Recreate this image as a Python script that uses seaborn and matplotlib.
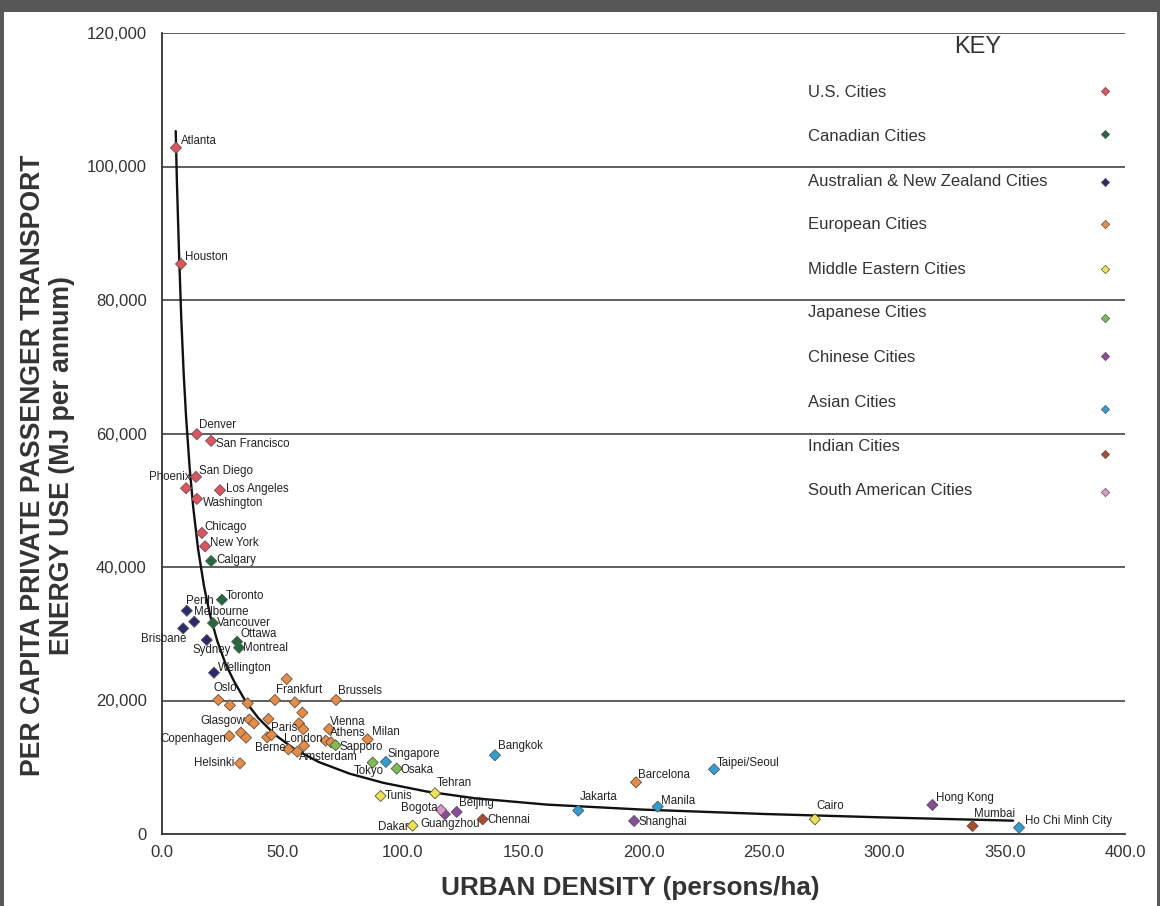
import numpy as np
import pandas as pd
import matplotlib.pyplot as plt
import seaborn as sns
from matplotlib.patches import Rectangle

# city data: density (persons/ha), energy (MJ per capita)
cities = ['Atlanta', 'Houston', 'Denver', 'San Francisco', 'San Diego', 'Phoenix',
          'Los Angeles', 'Washington', 'Chicago', 'New York',
          'Calgary', 'Toronto', 'Vancouver', 'Ottawa', 'Montreal',
          'Perth', 'Melbourne', 'Brisbane', 'Sydney', 'Wellington',
          'Oslo', 'Frankfurt', 'Brussels', '', '', '', '', '', 'Glasgow', '',
          'Paris', '', '', 'Copenhagen', '', '', '', '', 'Berne', 'Amsterdam',
          'London', 'Athens', 'Vienna', '', 'Milan', 'Helsinki', 'Barcelona',
          'Tehran', 'Tunis', 'Dakar', 'Cairo',
          'Sapporo', 'Tokyo', 'Osaka',
          'Beijing', 'Guangzhou', 'Shanghai', 'Hong Kong',
          'Singapore', 'Bangkok', 'Jakarta', 'Manila', 'Taipei/Seoul', 'Ho Chi Minh City',
          'Chennai', 'Mumbai',
          'Bogota']
density = [5.8, 7.9, 14.5, 20.4, 14.1, 10.0, 24.1, 14.5, 16.6, 17.9,
           20.4, 24.9, 21.2, 31.2, 32.0,
           10.3, 13.4, 8.8, 18.6, 21.6,
           23.4, 46.9, 72.3, 51.8, 28.2, 35.6, 55.2, 58.3, 36.3, 38.2,
           44.2, 56.9, 58.7, 28.0, 32.8, 34.9, 43.7, 45.5, 52.5, 56.2,
           59.0, 68.0, 69.4, 70.2, 85.4, 32.4, 196.9,
           113.4, 90.8, 104.1, 271.2,
           72.1, 87.5, 97.5,
           122.4, 117.5, 196.1, 320.0,
           93.0, 138.3, 172.9, 205.9, 229.3, 356.0,
           133.2, 336.7,
           115.9]
energy = [102800, 85400, 59900, 58900, 53500, 51800, 51500, 50200, 45100, 43100,
          40900, 35100, 31600, 28800, 27900,
          33450, 31800, 30800, 29060, 24160,
          20075, 20075, 20075, 23220, 19280, 19580, 19730, 18180, 17150, 16580,
          17230, 16580, 15690, 14680, 15180, 14430, 14490, 14830, 12690, 12330,
          13230, 13980, 15730, 13740, 14190, 10590, 7740,
          6100, 5700, 1250, 2200,
          13300, 10700, 9800,
          3300, 2950, 1950, 4350,
          10800, 11800, 3500, 4100, 9700, 950,
          2200, 1200,
          3600]
region = (['U.S. Cities'] * 10 + ['Canadian Cities'] * 5 +
          ['Australian & New Zealand Cities'] * 5 + ['European Cities'] * 27 +
          ['Middle Eastern Cities'] * 4 + ['Japanese Cities'] * 3 +
          ['Chinese Cities'] * 4 + ['Asian Cities'] * 6 + ['Indian Cities'] * 2 +
          ['South American Cities'])

groups = ['U.S. Cities', 'Canadian Cities', 'Australian & New Zealand Cities',
          'European Cities', 'Middle Eastern Cities', 'Japanese Cities',
          'Chinese Cities', 'Asian Cities', 'Indian Cities', 'South American Cities']
group_colors = ['#e8505b', '#1f6b3a', '#2b2a70', '#ee8a3c', '#f0e445',
                '#7cc04c', '#8b4a9e', '#2aa0d8', '#b04a28', '#dc96cc']

# trend curve
curve_density = [5.7, 6.2, 7.0, 8.0, 9.0, 10.0, 11.5, 13.0, 15.0, 17.5, 20.0, 23.0,
                 26.5, 30.0, 35.0, 40.0, 47.0, 55.0, 65.0, 78.0, 92.0, 110.0, 130.0,
                 160.0, 200.0, 250.0, 300.0, 353.5]
curve_energy = [105300, 97600, 87900, 77250, 69000, 62500, 54800, 48850, 42670, 37030,
                32750, 28870, 25400, 22830, 19710, 17380, 14850, 12730, 10800, 9030,
                7660, 6360, 5350, 4400, 3650, 3000, 2480, 2000]

x_ticks = [0, 50, 100, 150, 200, 250, 300, 350, 400]
y_ticks = [0, 20000, 40000, 60000, 80000, 100000, 120000]

# label placement: dx, dy in pixels, alignment
label_pos = {
    'Atlanta': (5, 7, 'left'), 'Houston': (4, 7, 'left'), 'Denver': (2, 9, 'left'),
    'San Francisco': (5, -3, 'left'), 'San Diego': (3, 6, 'left'),
    'Phoenix': (5, 11, 'right'), 'Los Angeles': (6, 1, 'left'),
    'Washington': (6, -4, 'left'), 'Chicago': (2, 6, 'left'), 'New York': (5, 3, 'left'),
    'Calgary': (5, 1, 'left'), 'Toronto': (4, 4, 'left'), 'Vancouver': (4, 0, 'left'),
    'Ottawa': (3, 8, 'left'), 'Montreal': (4, 0, 'left'), 'Perth': (-1, 10, 'left'),
    'Melbourne': (0, 10, 'left'), 'Brisbane': (3, -11, 'right'),
    'Sydney': (5, -10, 'center'), 'Wellington': (4, 5, 'left'),
    'Oslo': (-5, 12, 'left'), 'Frankfurt': (1, 10, 'left'), 'Brussels': (2, 9, 'left'),
    'Glasgow': (-4, -1, 'right'), 'Paris': (3, -9, 'left'), 'London': (-1, 7, 'center'),
    'Berne': (-3, 1, 'right'), 'Amsterdam': (2, -5, 'left'), 'Vienna': (1, 7, 'left'),
    'Athens': (4, 8, 'left'), 'Milan': (4, 7, 'left'), 'Copenhagen': (-3, -3, 'right'),
    'Helsinki': (-6, 0, 'right'), 'Barcelona': (2, 7, 'left'), 'Sapporo': (4, -2, 'left'),
    'Tokyo': (-4, -8, 'center'), 'Osaka': (4, -1, 'left'), 'Singapore': (2, 8, 'left'),
    'Bangkok': (3, 9, 'left'), 'Jakarta': (2, 14, 'left'), 'Manila': (3, 6, 'left'),
    'Taipei/Seoul': (3, 6, 'left'), 'Ho Chi Minh City': (6, 7, 'left'),
    'Tehran': (2, 10, 'left'), 'Tunis': (4, 0, 'left'), 'Dakar': (-4, -1, 'right'),
    'Cairo': (1, 13, 'left'), 'Beijing': (2, 9, 'left'), 'Guangzhou': (5, -10, 'center'),
    'Shanghai': (4, -1, 'left'), 'Hong Kong': (4, 7, 'left'), 'Chennai': (5, -1, 'left'),
    'Mumbai': (1, 12, 'left'), 'Bogota': (-3, 2, 'right'),
}

df = pd.DataFrame({'city': cities, 'density': density, 'energy': energy, 'region': region})
palette = dict(zip(groups, group_colors))

sns.set_theme(style='white')
plt.rcParams['font.family'] = ['Liberation Sans', 'DejaVu Sans']

fig = plt.figure(figsize=(11.6, 9.06), dpi=100)
fig.patch.set_facecolor('#575757')
fig.add_artist(Rectangle((4 / 1160, 0), 1153 / 1160, 894 / 906, transform=fig.transFigure,
                         facecolor='white', edgecolor='none', zorder=-10))
ax = fig.add_axes([162 / 1160, 72 / 906, 963 / 1160, 801 / 906])
ax.set_facecolor('white')

ax.plot(curve_density, curve_energy, color='#111111', lw=1.7, zorder=2,
        solid_joinstyle='round')
sns.scatterplot(data=df, x='density', y='energy', hue='region', palette=palette,
                marker='D', s=32, edgecolor='#555555', linewidth=0.6,
                legend=False, ax=ax, zorder=3)

for _, r in df.iterrows():
    if r['city'] == '':
        continue
    dx, dy, ha = label_pos[r['city']]
    ax.annotate(r['city'], (r['density'], r['energy']), xytext=(dx, dy),
                textcoords='offset pixels', ha=ha, va='center', zorder=4,
                fontsize=8.3, color='#222222')

ax.set_xlim(0, 400)
ax.set_ylim(0, 120000)
ax.set_xticks(x_ticks)
ax.set_xticklabels([f'{t:.1f}' for t in x_ticks])
ax.set_yticks(y_ticks)
ax.set_yticklabels([f'{t:,}' for t in y_ticks])
ax.tick_params(axis='both', length=0, labelsize=12, labelcolor='#333333')
ax.tick_params(axis='y', pad=11)
ax.tick_params(axis='x', pad=8)
for yv in y_ticks[1:]:
    ax.axhline(yv, color='#333333', lw=1.1, zorder=1)
for side in ['left', 'bottom']:
    ax.spines[side].set_color('#333333')
    ax.spines[side].set_linewidth(1.3)
ax.spines['right'].set_visible(False)
ax.spines['top'].set_visible(False)

ax.set_xlabel('URBAN DENSITY (persons/ha)', fontsize=18.8, fontweight='bold',
              color='#333333', va='center')
ax.xaxis.set_label_coords(0.486, -0.0674)
ax.set_ylabel('PER CAPITA PRIVATE PASSENGER TRANSPORT\nENERGY USE (MJ per annum)',
              fontsize=19.2, fontweight='bold', color='#333333', va='center', ha='center',
              linespacing=1.15)
ax.yaxis.set_label_coords(-0.119, 0.46)

# key drawn inside the plot area
key_text_y = [92, 136, 181, 224, 269, 313, 357, 402, 446, 490]
key_mark_y = [91, 134, 182, 224, 269, 318, 356, 409, 454, 492]
ax.text(0.847, (834 - 47) / 801, 'KEY', transform=ax.transAxes, ha='center',
        va='center', fontsize=17, color='#333333')
for g, c, ty, my in zip(groups, group_colors, key_text_y, key_mark_y):
    ax.text(0.671, (834 - ty) / 801, g, transform=ax.transAxes, ha='left',
            va='center', fontsize=12, color='#333333')
    ax.scatter([0.979], [(834 - my) / 801], transform=ax.transAxes, marker='D', s=18,
               color=c, edgecolor='#555555', linewidth=0.5, clip_on=False, zorder=3)

fig.savefig('out.png', dpi=100, facecolor=fig.get_facecolor())
